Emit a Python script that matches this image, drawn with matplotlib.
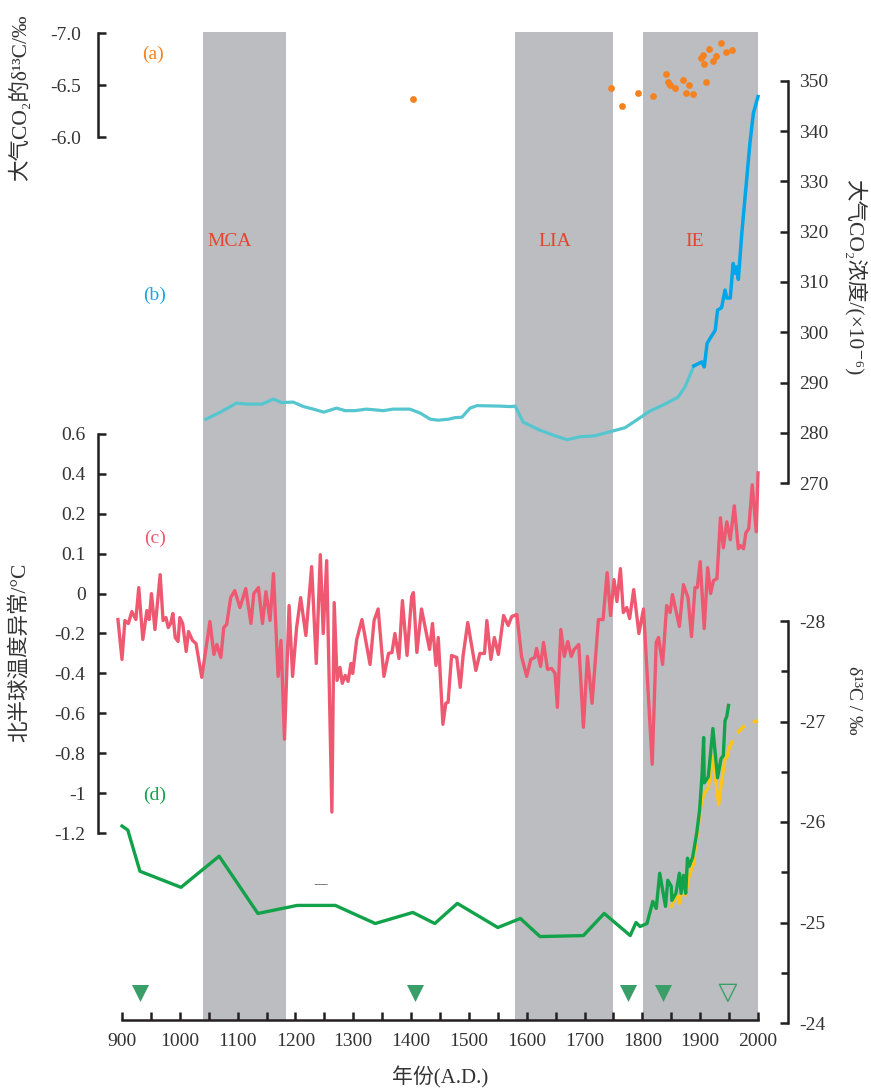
import numpy as np
import matplotlib
matplotlib.use("Agg")
import matplotlib.pyplot as plt
from matplotlib.ticker import FixedLocator, MultipleLocator, NullFormatter

plt.rcParams['font.family'] = ['Liberation Serif', 'DejaVu Serif', 'Noto Sans CJK SC']
plt.rcParams['axes.linewidth'] = 1.8
plt.rcParams['axes.unicode_minus'] = False

# ---------------- data ----------------
periods = [("MCA", 1040, 1183), ("LIA", 1580, 1750), ("IE", 1801, 2000)]

# (a) atmospheric CO2 d13C (permil)
a_year = [1403, 1746, 1765, 1793, 1818, 1841, 1844, 1848, 1856, 1871, 1880, 1875, 1888,
          1910, 1901, 1905, 1906, 1916, 1922, 1928, 1936, 1944, 1955]
a_d13c = [-6.37, -6.47, -6.30, -6.42, -6.39, -6.61, -6.53, -6.50, -6.47, -6.55, -6.50, -6.42, -6.41,
          -6.53, -6.76, -6.79, -6.70, -6.85, -6.73, -6.78, -6.90, -6.82, -6.84]

# (b) atmospheric CO2 (ppm): ice core and instrumental
b_ice_year = [1045, 1067, 1098, 1116, 1142, 1162, 1176, 1196, 1214, 1231, 1249, 1271, 1286, 1303,
              1323, 1352, 1369, 1398, 1416, 1433, 1447, 1465, 1476, 1488, 1502, 1514, 1554, 1572,
              1580, 1594, 1623, 1649, 1670, 1692, 1718, 1744, 1770, 1787, 1813, 1839, 1862, 1874, 1889]
b_ice_co2 = [282.7, 283.9, 285.9, 285.7, 285.7, 286.7, 286.0, 286.1, 285.2, 284.7, 284.1, 284.9, 284.4, 284.4,
             284.7, 284.4, 284.7, 284.7, 283.9, 282.7, 282.5, 282.7, 283.0, 283.1, 284.9, 285.4, 285.3, 285.2,
             285.3, 282.1, 280.5, 279.4, 278.6, 279.2, 279.4, 280.2, 281.0, 282.3, 284.3, 285.7, 287.1, 289.2, 293.3]
b_obs_year = [1889, 1903, 1907, 1912, 1920, 1926, 1930, 1937, 1943, 1946, 1952, 1957, 1961, 1963,
              1966, 1972, 1986, 1992, 2000]
b_obs_co2 = [293.3, 294.1, 293.1, 297.8, 299.3, 300.4, 304.4, 304.9, 308.4, 306.8, 306.8, 313.7, 311.7, 313.0,
             310.5, 319.7, 337.6, 343.6, 346.9]

# (c) NH temperature anomaly (deg C)
c_year = [893, 900, 905, 911, 917, 924, 929, 936, 943, 947, 951, 957, 966, 971, 976, 980, 984, 988,
          992, 997, 1000, 1005, 1011, 1015, 1022, 1028, 1038, 1052, 1059, 1064, 1071, 1076, 1081, 1088,
          1095, 1104, 1114, 1123, 1128, 1136, 1143, 1149, 1156, 1162, 1170, 1175, 1181, 1189, 1195, 1202,
          1209, 1218, 1228, 1236, 1243, 1248, 1254, 1263, 1267, 1272, 1277, 1281, 1286, 1291, 1296, 1299,
          1306, 1315, 1329, 1336, 1343, 1353, 1361, 1367, 1372, 1379, 1385, 1393, 1401, 1404, 1410, 1418,
          1432, 1437, 1443, 1447, 1455, 1460, 1464, 1470, 1479, 1485, 1490, 1498, 1512, 1519, 1527, 1531,
          1538, 1544, 1551, 1560, 1568, 1574, 1583, 1591, 1600, 1607, 1614, 1617, 1624, 1629, 1636, 1643,
          1649, 1653, 1659, 1665, 1671, 1677, 1682, 1690, 1698, 1705, 1713, 1724, 1732, 1739, 1745, 1751,
          1756, 1762, 1767, 1773, 1778, 1785, 1794, 1802, 1817, 1824, 1828, 1835, 1842, 1848, 1852, 1864,
          1871, 1879, 1885, 1891, 1895, 1900, 1907, 1913, 1918, 1923, 1929, 1935, 1940, 1946, 1952, 1959,
          1966, 1970, 1975, 1979, 1984, 1990, 1997, 2000]
c_temp = [-0.13, -0.33, -0.135, -0.15, -0.09, -0.13, 0.015, -0.23, -0.085, -0.13, 0.0, -0.18, 0.0475, -0.135,
          -0.12, -0.17, -0.15, -0.10, -0.22, -0.24, -0.12, -0.15, -0.29, -0.19, -0.235, -0.25, -0.42, -0.14,
          -0.305, -0.255, -0.32, -0.17, -0.155, -0.02, 0.0075, -0.07, 0.0125, -0.15, 0.0, 0.015, -0.15, 0.005,
          -0.135, 0.05, -0.415, -0.235, -0.73, -0.06, -0.415, -0.17, -0.02, -0.21, 0.0675, -0.35, 0.0975, -0.2,
          0.0825, -1.095, -0.045, -0.435, -0.37, -0.45, -0.41, -0.44, -0.35, -0.40, -0.23, -0.13, -0.355,
          -0.135, -0.077, -0.415, -0.30, -0.295, -0.20, -0.325, -0.035, -0.31, -0.015, 0.0025, -0.295, -0.077,
          -0.28, -0.15, -0.36, -0.22, -0.655, -0.55, -0.545, -0.31, -0.32, -0.47, -0.31, -0.145, -0.385, -0.30,
          -0.30, -0.135, -0.33, -0.22, -0.305, -0.11, -0.16, -0.115, -0.105, -0.315, -0.415, -0.33, -0.32,
          -0.275, -0.365, -0.245, -0.38, -0.375, -0.40, -0.57, -0.18, -0.315, -0.24, -0.315, -0.28, -0.255,
          -0.67, -0.315, -0.55, -0.13, -0.13, 0.0525, -0.11, 0.035, -0.04, 0.0625, -0.095, -0.07, -0.125, 0.01,
          -0.20, -0.077, -0.855, -0.245, -0.22, -0.355, -0.06, -0.095, -0.005, -0.165, 0.0225, -0.02, -0.215,
          0.015, 0.015, 0.08, -0.175, 0.065, 0.0, 0.0325, 0.0375, 0.19, 0.115, 0.18, 0.135, 0.24, 0.1125, 0.12,
          0.1125, 0.1525, 0.1625, 0.345, 0.155, 0.405]

# (d) sediment d13C (permil)
d_year = [900, 910, 931, 1002, 1068, 1135, 1203, 1269, 1338, 1403, 1441, 1480, 1550, 1589, 1623, 1698,
          1734, 1779, 1789, 1796, 1808, 1818, 1824, 1830, 1840, 1844, 1850, 1851, 1858, 1864, 1867, 1871,
          1875, 1878, 1881, 1887, 1894, 1899, 1903, 1906, 1907, 1914, 1922, 1930, 1936, 1940, 1943, 1946, 1949]
d_d13c = [-25.96, -25.92, -25.51, -25.35, -25.66, -25.09, -25.17, -25.17, -24.99, -25.10, -24.99, -25.19,
          -24.95, -25.04, -24.86, -24.87, -25.09, -24.87, -25.0, -24.96, -24.99, -25.21, -25.14, -25.49,
          -25.16, -25.42, -25.36, -25.22, -25.29, -25.49, -25.29, -25.47, -25.29, -25.64, -25.56, -25.65,
          -25.89, -26.12, -26.45, -26.84, -26.39, -26.45, -26.93, -26.44, -26.63, -26.66, -27.01, -27.05, -27.16]
e_year = [1850, 1859, 1864, 1871, 1875, 1881, 1888, 1895, 1901, 1906, 1914, 1922, 1932, 1937, 1943, 1947, 1949]
e_d13c = [-25.16, -25.29, -25.19, -25.42, -25.27, -25.47, -25.57, -25.89, -26.15, -26.27, -26.34, -26.65,
          -26.17, -26.40, -26.62, -26.65, -26.72]
e_trend_year = [1949, 1960, 1975, 1990, 2000]
e_trend_d13c = [-26.72, -26.86, -26.95, -26.99, -27.01]

tri_year = [931, 1407, 1775, 1836]
tri_open_year = [1948]
tri_level = -24.30

year_ticks = list(range(900, 2001, 100))
a_ticks = [-7.0, -6.5, -6.0]
a_labels = ['-7.0', '-6.5', '-6.0']
b_ticks = list(range(270, 351, 10))
c_ticks = [-1.2, -1.0, -0.8, -0.6, -0.4, -0.2, 0.0, 0.1, 0.2, 0.4, 0.6]
c_labels = ['-1.2', '-1', '-0.8', '-0.6', '-0.4', '-0.2', '0', '0.1', '0.2', '0.4', '0.6']
d_ticks = [-28, -27, -26, -25, -24]

# ---------------- colours ----------------
GRAY = '#BCBDC0'
ORANGE = '#F58220'
CYAN = '#55C6D0'
BLUE = '#00A6EA'
RED = '#EF5871'
GREEN = '#12A24A'
GOLD = '#FFC516'
TRI = '#3A9E68'
PER = '#E4452F'
DARK = '#231F20'
TXT = '#333333'

W, H = 871, 1091
fig = plt.figure(figsize=(W / 100, H / 100), dpi=100)


def box(x0, y0, x1, y1):
    return [x0 / W, 1 - y1 / H, (x1 - x0) / W, (y1 - y0) / H]


XL, XR = 122, 758
LEFT_POS = (98 - XL) / (XR - XL)
RIGHT_POS = (788 - XL) / (XR - XL)

# main axis (bands + year axis)
ax = fig.add_axes(box(XL, 32, XR, 1020))
ax.set_xlim(900, 2000)
ax.set_ylim(0, 1)
for name, s, e in periods:
    ax.axvspan(s, e, color=GRAY, lw=0, zorder=0)
for sp in ['left', 'right', 'top']:
    ax.spines[sp].set_visible(False)
ax.spines['bottom'].set_color(DARK)
ax.set_yticks([])
ax.xaxis.set_major_locator(FixedLocator(year_ticks))
ax.xaxis.set_minor_locator(MultipleLocator(50))
ax.tick_params(axis='x', which='both', direction='in', length=6, width=1.8, color=DARK,
               labelsize=14, pad=9, labelcolor=TXT)
ax.set_xlabel('年份(A.D.)', fontsize=15, labelpad=12, color=TXT)


def overlay(y0, y1):
    a = fig.add_axes(box(XL, y0, XR, y1), sharex=ax)
    a.patch.set_visible(False)
    for sp in a.spines.values():
        sp.set_visible(False)
    a.xaxis.set_visible(False)
    return a


def style_y(a, side, pos, pad):
    a.spines[side].set_visible(True)
    a.spines[side].set_position(('axes', pos))
    a.spines[side].set_color(DARK)
    a.yaxis.set_ticks_position(side)
    a.yaxis.set_label_position(side)
    a.tick_params(axis='y', which='major', direction='in', length=6, width=1.8, color=DARK,
                  labelsize=14, pad=pad, labelcolor=TXT)
    a.tick_params(axis='y', which='minor', direction='in', length=5, width=1.8, color=DARK)


# (a)
axa = overlay(33, 137)
axa.set_ylim(-6.0, -7.0)
style_y(axa, 'left', LEFT_POS, 12)
axa.set_yticks(a_ticks)
axa.set_yticklabels(a_labels)
axa.scatter(a_year, a_d13c, s=24, color=ORANGE, lw=0, zorder=5, clip_on=False)

# (b)
axb = overlay(81, 483)
axb.set_ylim(270, 350)
style_y(axb, 'right', RIGHT_POS, 8)
axb.set_yticks(b_ticks)
axb.plot(b_ice_year, b_ice_co2, color=CYAN, lw=2.3, zorder=4, clip_on=False)
axb.plot(b_obs_year, b_obs_co2, color=BLUE, lw=2.5, zorder=5, clip_on=False)

# (c)
axc = overlay(434, 833)
c_pos = [-10, 0.0, 0.1, 0.2, 0.4, 0.6, 10]
c_lin = [-10, 0.0, 0.2, 0.4, 0.6, 0.8, 10.2]
axc.set_yscale('function', functions=(lambda v: np.interp(v, c_pos, c_lin),
                                      lambda v: np.interp(v, c_lin, c_pos)))
axc.set_ylim(-1.2, 0.6)
style_y(axc, 'left', LEFT_POS, 9)
axc.yaxis.set_major_locator(FixedLocator(c_ticks))
axc.set_yticklabels(c_labels)
axc.yaxis.set_minor_formatter(NullFormatter())
axc.yaxis.set_minor_locator(FixedLocator([]))
axc.plot(c_year, c_temp, color=RED, lw=2.4, zorder=5, clip_on=False)

# (d)
axd = overlay(621, 1023)
axd.set_ylim(-24, -28)
style_y(axd, 'right', RIGHT_POS, 8)
axd.yaxis.set_major_locator(FixedLocator(d_ticks))
axd.yaxis.set_minor_locator(MultipleLocator(0.5))
axd.plot(e_year, e_d13c, color=GOLD, lw=2.3, zorder=4, clip_on=False)
axd.plot(e_trend_year, e_trend_d13c, color=GOLD, lw=2.5, ls=(0, (3, 2.5)), zorder=4, clip_on=False)
axd.plot(d_year, d_d13c, color=GREEN, lw=2.4, zorder=5, clip_on=False)
axd.scatter(tri_year, [tri_level] * len(tri_year), marker='v', s=150, color=TRI, lw=0, zorder=6)
axd.scatter(tri_open_year, [tri_level] * len(tri_open_year), marker='v', s=150, facecolor='none',
            edgecolor=TRI, lw=1.0, zorder=6)


def ftext(x, y, s, **kw):
    fig.text(x / W, 1 - y / H, s, ha='center', va='center', **kw)


# axis titles
ftext(20, 98, '大气CO₂的δ¹³C/‰', rotation=90, fontsize=15.5, color=TXT)
ftext(20, 652, '北半球温度异常/°C', rotation=90, fontsize=15.5, color=TXT)
ftext(855, 277, '大气CO₂浓度/(×10⁻⁶)', rotation=270, fontsize=15.5, color=TXT)
ftext(853, 700, 'δ¹³C / ‰', rotation=270, fontsize=14, color=TXT)

# panel letters and period names
ftext(153, 54, '(a)', fontsize=14, color=ORANGE)
ftext(155, 295, '(b)', fontsize=14, color='#1AA7E0')
ftext(155, 538, '(c)', fontsize=14, color=RED)
ftext(155, 795, '(d)', fontsize=14, color=GREEN)
ftext(230, 241, 'MCA', fontsize=14, color=PER)
ftext(555, 241, 'LIA', fontsize=14, color=PER)
ftext(695, 241, 'IE', fontsize=14, color=PER)
ftext(320, 884, '—', fontsize=9, color=TXT)

fig.savefig('out.png', dpi=100)
